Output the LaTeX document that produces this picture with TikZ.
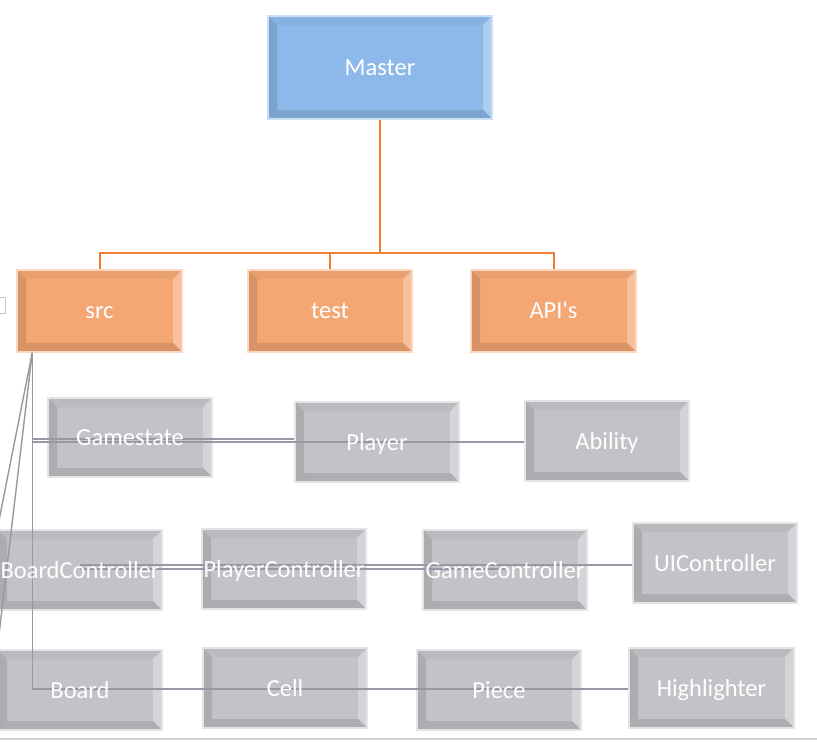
\documentclass[tikz,border=0pt]{standalone}
\usepackage{fontspec}
\setmainfont{Carlito}
\usetikzlibrary{calc}
\definecolor{mblue}{RGB}{141,185,234}
\definecolor{morange}{RGB}{244,166,115}
\definecolor{mgray}{RGB}{195,194,199}
\definecolor{conor}{RGB}{237,125,49}
\definecolor{congray}{RGB}{152,152,164}
\tikzset{
  bevelbox/.style={rectangle, inner sep=0pt, fill=#1, draw=#1!45!white, line width=1.5pt,
    path picture={
      \path (path picture bounding box.north west) coordinate (pA)
            (path picture bounding box.north east) coordinate (pB)
            (path picture bounding box.south east) coordinate (pC)
            (path picture bounding box.south west) coordinate (pD);
      \path (pA) ++(9,9) coordinate (qA)
            (pB) ++(-9,9) coordinate (qB)
            (pC) ++(-9,-9) coordinate (qC)
            (pD) ++(9,-9) coordinate (qD);
      \fill[#1!96!black] (pA)--(pB)--(qB)--(qA)--cycle;
      \fill[#1!88!black] (pA)--(qA)--(qD)--(pD)--cycle;
      \fill[#1!72!white] (pB)--(pC)--(qC)--(qB)--cycle;
      \fill[#1!89!black] (pD)--(qD)--(qC)--(pC)--cycle;
    }},
  bw/.style={minimum width=164pt, minimum height=80pt},
  lbl/.style={text=white, inner sep=0pt, anchor=base, font=\fontsize{24.5}{29}\selectfont},
  orcon/.style={draw=conor, line width=2pt},
  grcon/.style={draw=congray, line width=1.4pt},
}
\begin{document}
\begin{tikzpicture}[x=1pt,y=-1pt]
\useasboundingbox (0,0) rectangle (817,743);
\clip (0,0) rectangle (817,743);
\fill[white] (0,0) rectangle (817,743);
% boxes
\node[bevelbox=mblue, minimum width=224pt, minimum height=103pt] (master) at (380,67.5) {};
\node[bevelbox=morange, minimum width=165pt, minimum height=82pt] (src) at (99.5,311) {};
\node[bevelbox=morange, minimum width=164pt, minimum height=82pt] (test) at (330,311) {};
\node[bevelbox=morange, minimum width=165pt, minimum height=82pt] (apis) at (553.5,311) {};
\node[bevelbox=mgray, bw, minimum height=79pt] (gamestate) at (130,437.5) {};
\node[bevelbox=mgray, bw] (player) at (377,442) {};
\node[bevelbox=mgray, bw] (ability) at (607,441) {};
\node[bevelbox=mgray, bw] (boardctl) at (80,570) {};
\node[bevelbox=mgray, bw] (playerctl) at (284,569) {};
\node[bevelbox=mgray, bw] (gamectl) at (505,570) {};
\node[bevelbox=mgray, bw] (uictl) at (715,563) {};
\node[bevelbox=mgray, bw] (board) at (80,690) {};
\node[bevelbox=mgray, bw] (cell) at (285,688) {};
\node[bevelbox=mgray, bw] (piece) at (499,690) {};
\node[bevelbox=mgray, bw, minimum width=165pt] (highlighter) at (711.5,688) {};
% orange connectors
\draw[orcon] (master.south) -- ++(0,133) coordinate (jn);
\draw[orcon] (jn) -| (src.north);
\draw[orcon] (jn) -| (test.north);
\draw[orcon] (jn) -| (apis.north);
% gray connectors
\coordinate (trunk) at ($(src.south west)+(16,0)$);
\coordinate (g1) at ([yshift=-1.5pt]gamestate.west);
\coordinate (g2) at ([yshift=-4.5pt]gamestate.west);
\draw[grcon] (trunk |- g1) -- (g1 -| player.west);
\draw[grcon] (trunk |- g2) -- (g2 -| ability.west);
\draw[grcon] (trunk) -- (boardctl.north west);
\draw[grcon] (trunk) -- (board.north west);
\draw[grcon] ([yshift=5pt]boardctl.center) -- ([yshift=5pt]gamectl.center) -- ([yshift=-2pt]uictl.west);
\draw[grcon] ([yshift=1pt]boardctl.center) -- ([yshift=1pt]gamectl.center);
\draw[grcon] (trunk) |- ([yshift=1pt]board.center) -- ([yshift=1pt]piece.center) -- ([yshift=-1pt]highlighter.west);
% labels
\node[lbl] at ([yshift=-8pt]master.center) {Master};
\node[lbl] at ([yshift=-8pt]src.center) {src};
\node[lbl] at ([yshift=-8pt]test.center) {test};
\node[lbl] at ([yshift=-8pt]apis.center) {API\textquotesingle s};
\node[lbl] at ([yshift=-8pt]gamestate.center) {Gamestate};
\node[lbl] at ([yshift=-8pt]player.center) {Player};
\node[lbl] at ([yshift=-8pt]ability.center) {Ability};
\node[lbl] at ([yshift=-8pt]boardctl.center) {BoardController};
\node[lbl] at ([yshift=-8pt]playerctl.center) {PlayerController};
\node[lbl] at ([yshift=-8pt]gamectl.center) {GameController};
\node[lbl] at ([yshift=-8pt]uictl.center) {UIController};
\node[lbl] at ([yshift=-8pt]board.center) {Board};
\node[lbl] at ([yshift=-8pt]cell.center) {Cell};
\node[lbl] at ([yshift=-8pt]piece.center) {Piece};
\node[lbl] at ([yshift=-8pt]highlighter.center) {Highlighter};
% page marks
\draw[gray!45, line width=0.8pt] (-1,297) rectangle (5,313);
\draw[gray!35, line width=1.5pt] (0,739) -- (817,739);
\end{tikzpicture}
\end{document}
